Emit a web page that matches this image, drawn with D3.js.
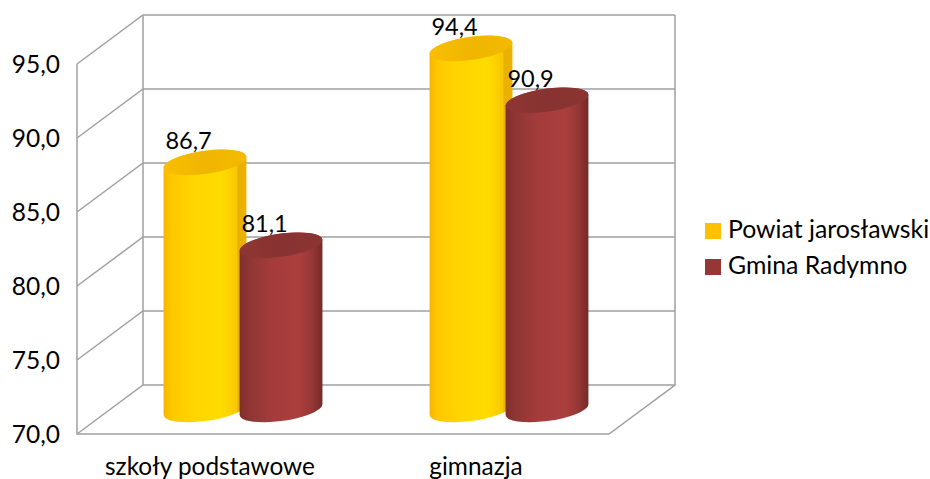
<!DOCTYPE html>
<html><head><meta charset="utf-8">
<script src="https://cdn.jsdelivr.net/npm/d3@7"></script>
<style>html,body{margin:0;padding:0;background:#fff}svg{display:block}text{font-family:Lato,"Open Sans",sans-serif;fill:#000}</style>
</head><body><svg id="c" width="930" height="479"></svg>
<script>
const categories = ["szkoły podstawowe", "gimnazja"];
const seriesNames = ["Powiat jarosławski", "Gmina Radymno"];
const powiatValues = [86.7, 94.4];
const gminaValues = [81.1, 90.9];
const tickValues = [70, 75, 80, 85, 90, 95];
const seriesColors = ["#FFC000", "#953735"];

const svg = d3.select("#c");
const fmt = v => v.toFixed(1).replace(".", ",");
// plot geometry
const front = {x0: 77, x1: 609, y0: 434};
const depth = {dx: 66, dy: -49};
const y = d3.scaleLinear().domain([70, 95]).range([0, -370]);
const xFront = d3.scaleBand().domain(categories).range([front.x0, front.x1]);
const xMid = d3.scaleBand().domain(categories).range([front.x0 + depth.dx / 2, front.x1 + depth.dx / 2]);
const xSeries = d3.scaleBand().domain(seriesNames).range([-76, 76]);
const gridColor = "#a0a0a0";

const defs = svg.append("defs");
function grad(id, stops) {
  const g = defs.append("linearGradient").attr("id", id).attr("x1", 0).attr("x2", 1).attr("y1", 0).attr("y2", 0);
  stops.forEach(s => g.append("stop").attr("offset", s[0]).attr("stop-color", s[1]));
}
grad("g0", [[0, "#F7B500"], [0.1, "#FFC800"], [0.35, "#FFD400"], [0.7, "#FFDC00"], [0.88, "#F9C800"], [0.9, "#E8B000"], [1, "#EDB200"]]);
grad("g1", [[0, "#7F2E2C"], [0.12, "#8F3634"], [0.4, "#A43C3B"], [0.72, "#AB3F3E"], [0.88, "#953735"], [1, "#732A28"]]);
grad("t0", [[0, "#F9BE00"], [0.5, "#F0B600"], [1, "#F4BA00"]]);
grad("t1", [[0, "#8F3634"], [0.5, "#873331"], [1, "#8C3533"]]);

const grid = svg.append("g").attr("fill", "none").attr("stroke", gridColor).attr("stroke-width", 1.5);
const bx0 = front.x0 + depth.dx, bx1 = front.x1 + depth.dx, by0 = front.y0 + depth.dy;
tickValues.forEach(t => {
  const yy = y(t);
  grid.append("path").attr("d", d3.line()([[front.x0, front.y0 + yy], [bx0, by0 + yy], [bx1, by0 + yy]]));
});
grid.append("path").attr("d", d3.line()([[bx1, by0 + y(95)], [bx1, by0], [front.x1, front.y0], [front.x0, front.y0], [front.x0, front.y0 + y(95)]]));
grid.append("path").attr("d", d3.line()([[bx0, by0 + y(95)], [bx0, by0]]));

svg.append("g").selectAll("text").data(tickValues).join("text")
  .attr("x", 60).attr("y", d => front.y0 + y(d) + 8.5).attr("text-anchor", "end")
  .attr("font-size", 24.5).text(fmt);

svg.append("g").selectAll("text").data(categories).join("text")
  .attr("x", d => xFront(d) + xFront.bandwidth() / 2).attr("y", 475).attr("text-anchor", "middle")
  .attr("font-size", 24.4).text(d => d);

// cylinders
const rx = 41.8, ry = 11.5, rot = -8;
const rad = rot * Math.PI / 180;
const halfW = Math.sqrt(rx * rx * Math.cos(rad) ** 2 + ry * ry * Math.sin(rad) ** 2);
const edgeDy = (rx * rx - ry * ry) * Math.sin(rad) * Math.cos(rad) / halfW;
const midBase = front.y0 + depth.dy / 2;
[powiatValues, gminaValues].forEach((vals, si) => {
  const g = svg.append("g");
  vals.forEach((v, ci) => {
    const cx = xMid(categories[ci]) + xMid.bandwidth() / 2 + xSeries(seriesNames[si]) + xSeries.bandwidth() / 2;
    const top = midBase + y(v);
    const bot = midBase;
    const a = `A${rx} ${ry} ${rot} 0 0`;
    const L = [cx - halfW, top - edgeDy], R = [cx + halfW, top + edgeDy];
    const Lb = [cx - halfW, bot - edgeDy], Rb = [cx + halfW, bot + edgeDy];
    g.append("path").attr("fill", `url(#g${si})`)
      .attr("d", `M${L}L${Lb}${a} ${Rb}L${R}${a} ${L}Z`);
    g.append("ellipse").attr("fill", `url(#t${si})`).attr("rx", rx).attr("ry", ry)
      .attr("transform", `translate(${cx},${top}) rotate(${rot})`);
    svg.append("text").attr("x", cx - 16.5).attr("y", top - 13.5)
      .attr("text-anchor", "middle").attr("font-size", 23.5).text(fmt(v));
  });
});

// legend
const lg = svg.append("g").selectAll("g").data(seriesNames).join("g")
  .attr("transform", (d, i) => `translate(705,${223 + i * 36})`);
lg.append("rect").attr("width", 16).attr("height", 16).attr("fill", (d, i) => seriesColors[i]);
lg.append("text").attr("x", 23).attr("y", 15).attr("font-size", 24.8).text(d => d);
</script></body></html>
